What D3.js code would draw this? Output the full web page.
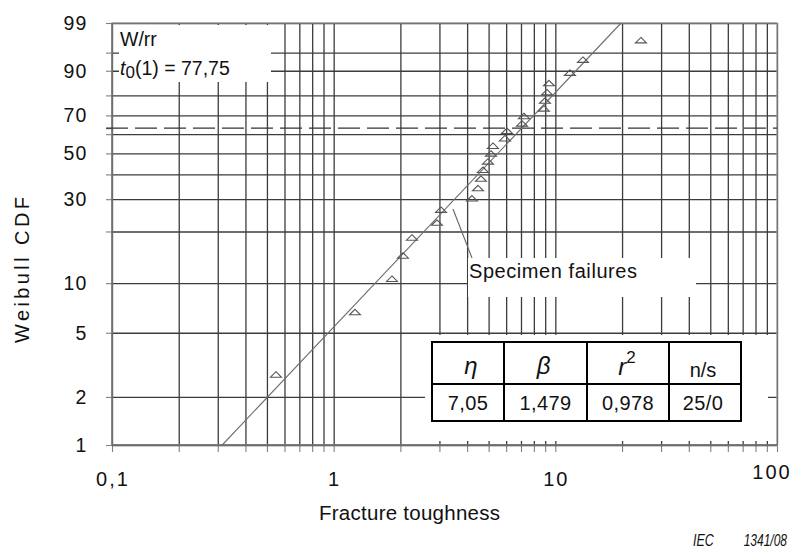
<!DOCTYPE html>
<html>
<head>
<meta charset="utf-8">
<script src="https://cdn.jsdelivr.net/npm/d3@7"></script>
<style>
  body { margin: 0; background: #fff; }
  svg { display: block; }
  text { font-family: Arial, "Liberation Sans", sans-serif; fill: #111; }
</style>
</head>
<body>
<svg id="chart" width="794" height="549"></svg>
<script>
// Specimen fracture toughness, ranked, and the plotted CDF position of each (%)
const toughness = [0.549, 1.248, 1.832, 2.054, 2.255, 2.924, 3.048, 4.205, 4.477, 4.618,
                   4.715, 4.966, 5.123, 5.230, 5.925, 6.049, 7.07, 7.22, 8.88, 8.98,
                   9.17, 9.36, 11.64, 13.32, 24.33];
const cdfPercent = [2.76, 6.69, 10.63, 14.57, 18.50, 22.44, 26.38, 30.31, 34.25, 38.19,
                    42.13, 46.06, 50.00, 53.94, 57.87, 61.81, 65.75, 69.69, 73.62, 77.56,
                    81.50, 85.43, 89.37, 93.31, 97.24];

// Two-parameter Weibull fit
const eta = 7.05;
const beta = 1.479;
const rSquared = 0.978;
const nFailed = 25;
const nSuspended = 0;
const fitPercent = [1, 99];
const characteristicPercent = 63.2;

// Grid and tick values
const xGrid = [0.1, 0.2, 0.3, 0.4, 0.5, 0.6, 0.7, 0.8, 0.9,
               1, 2, 3, 4, 5, 6, 7, 8, 9,
               10, 20, 30, 40, 50, 60, 70, 80, 90, 100];
const xTickLabels = [0.1, 1, 10, 100];
const yGridPercent = [1, 2, 5, 10, 20, 30, 40, 50, 60, 70, 80, 90, 95, 99];
const yTickLabels = [1, 2, 5, 10, 30, 50, 70, 90, 99];

const fmtComma = (v, d) => v.toFixed(d).replace(".", ",");
const fmtTick = v => String(v).replace(".", ",");

// Weibull probability transform
const weib = p => Math.log(-Math.log(1 - p / 100));

const svg = d3.select("#chart");
const L = 112, R = 777, T = 23, B = 445;

const x = d3.scaleLog().domain([0.1, 100]).range([L, R]);
const y = d3.scaleLinear().domain([weib(1), weib(99)]).range([B, T]);

// outer tick marks (left and bottom)
svg.append("g")
  .attr("transform", `translate(0,${B})`)
  .attr("color", "#808080")
  .call(d3.axisBottom(x).tickValues(xGrid).tickSize(7).tickFormat(""))
  .call(g => g.select(".domain").remove())
  .call(g => g.selectAll("line").attr("stroke-width", 1.1));

svg.append("g")
  .attr("transform", `translate(${L},0)`)
  .attr("color", "#808080")
  .call(d3.axisLeft(y).tickValues(yGridPercent.map(weib).concat([weib(characteristicPercent)])).tickSize(6).tickFormat(""))
  .call(g => g.select(".domain").remove())
  .call(g => g.selectAll("line").attr("stroke-width", 1.1));

// grid
svg.append("g")
  .attr("transform", `translate(0,${B})`)
  .attr("color", "#3c3c3c")
  .call(d3.axisBottom(x).tickValues(xGrid).tickSize(-(B - T)).tickFormat(""))
  .call(g => g.select(".domain").remove())
  .call(g => g.selectAll("line").attr("stroke-width", 1.3));

svg.append("g")
  .attr("transform", `translate(${L},0)`)
  .attr("color", "#3c3c3c")
  .call(d3.axisLeft(y).tickValues(yGridPercent.map(weib)).tickSize(-(R - L)).tickFormat(""))
  .call(g => g.select(".domain").remove())
  .call(g => g.selectAll("line").attr("stroke-width", 1.3));

// frame
svg.append("rect")
  .attr("x", L).attr("y", T).attr("width", R - L).attr("height", B - T)
  .attr("fill", "none").attr("stroke", "#9a9a9a").attr("stroke-width", 1.2);
svg.append("line")
  .attr("x1", L).attr("x2", L).attr("y1", T).attr("y2", B)
  .attr("stroke", "#6a6a6a").attr("stroke-width", 1.3);
svg.append("line")
  .attr("x1", L).attr("x2", R).attr("y1", B).attr("y2", B)
  .attr("stroke", "#6a6a6a").attr("stroke-width", 1.3);

// characteristic-life level
svg.append("line")
  .attr("x1", L - 6).attr("x2", R)
  .attr("y1", y(weib(characteristicPercent))).attr("y2", y(weib(characteristicPercent)))
  .attr("stroke", "#333").attr("stroke-width", 1.3)
  .attr("stroke-dasharray", "22 7");

// white label panels
const panel = (x0, y0, w, h) => svg.append("rect")
  .attr("x", x0).attr("y", y0).attr("width", w).attr("height", h).attr("fill", "#fff");
panel(119, 25, 152, 57);
panel(468, 258, 228, 39);
panel(425, 335, 343, 106);

// fitted Weibull line
const fitLine = fitPercent.map(p => ({
  t: eta * Math.pow(-Math.log(1 - p / 100), 1 / beta),
  p
}));
svg.append("path")
  .datum(fitLine)
  .attr("d", d3.line().x(d => x(d.t)).y(d => y(weib(d.p))))
  .attr("fill", "none").attr("stroke", "#6e6e6e").attr("stroke-width", 1.1);

// specimen markers: flat open triangles
const flatTriangle = {
  draw(ctx, size) {
    const h = Math.sqrt(size) / 2;
    ctx.moveTo(0, -h);
    ctx.lineTo(2 * h, h);
    ctx.lineTo(-2 * h, h);
    ctx.closePath();
  }
};
svg.append("g")
  .selectAll("path")
  .data(toughness.map((t, i) => ({ t, p: cdfPercent[i] })))
  .join("path")
  .attr("transform", d => `translate(${x(d.t)},${y(weib(d.p))})`)
  .attr("d", d3.symbol().type(flatTriangle).size(30))
  .attr("fill", "none").attr("stroke", "#555").attr("stroke-width", 1.1);

// leader for the specimen label
svg.append("line")
  .attr("x1", 453).attr("y1", 209).attr("x2", 472).attr("y2", 258)
  .attr("stroke", "#666").attr("stroke-width", 1.1);
svg.append("text")
  .attr("x", 469).attr("y", 278)
  .attr("font-size", 20)
  .attr("textLength", 168).attr("lengthAdjust", "spacing")
  .text("Specimen failures");

// y tick labels
svg.append("g")
  .selectAll("text")
  .data(yTickLabels)
  .join("text")
  .attr("x", 87.5)
  .attr("y", d => y(weib(d)) + 7)
  .attr("text-anchor", "end")
  .attr("font-size", 19.5)
  .attr("letter-spacing", 1.2)
  .text(d => d);

// x tick labels
svg.append("g")
  .selectAll("text")
  .data(xTickLabels)
  .join("text")
  .attr("x", d => Math.min(x(d), 771) + 1)
  .attr("y", (d, i) => i === xTickLabels.length - 1 ? 478.5 : 485.5)
  .attr("text-anchor", "middle")
  .attr("font-size", 20)
  .attr("letter-spacing", 2)
  .text(fmtTick);

// axis titles
svg.append("text")
  .attr("transform", "translate(28.5,270) rotate(-90)")
  .attr("text-anchor", "middle")
  .attr("font-size", 20)
  .attr("textLength", 146).attr("lengthAdjust", "spacing")
  .text("Weibull CDF");
svg.append("text")
  .attr("x", 409.5).attr("y", 520)
  .attr("text-anchor", "middle")
  .attr("font-size", 20.5)
  .attr("textLength", 181).attr("lengthAdjust", "spacing")
  .text("Fracture toughness");

// method and threshold labels
svg.append("text")
  .attr("x", 120).attr("y", 45.5)
  .attr("font-size", 19.5)
  .text("W/rr");
const t0 = svg.append("text")
  .attr("x", 120).attr("y", 75)
  .attr("font-size", 19.5);
t0.append("tspan").attr("font-style", "italic").text("t");
t0.append("tspan").attr("dy", 3).attr("font-size", 17).text("0");
t0.append("tspan").attr("dy", -3).text("(1) = " + fmtComma(77.75, 2));

// parameter table
const colX = [432, 504, 587, 669, 741];
const rowY = [342, 384, 421];
const table = svg.append("g");
table.selectAll("line.v")
  .data(colX)
  .join("line")
  .attr("x1", d => d).attr("x2", d => d)
  .attr("y1", rowY[0]).attr("y2", rowY[2])
  .attr("stroke", "#000").attr("stroke-width", 2);
table.selectAll("line.h")
  .data(rowY)
  .join("line")
  .attr("x1", colX[0] - 1).attr("x2", colX[colX.length - 1] + 1)
  .attr("y1", d => d).attr("y2", d => d)
  .attr("stroke", "#000").attr("stroke-width", 2);

const cellCx = i => (colX[i] + colX[i + 1]) / 2;
const serif = '"Liberation Serif", "Times New Roman", serif';
table.append("text")
  .attr("x", cellCx(0) + 3).attr("y", 374)
  .attr("text-anchor", "middle")
  .attr("font-family", serif).attr("font-style", "italic").attr("font-size", 24)
  .text("η");
table.append("text")
  .attr("x", cellCx(1) - 2).attr("y", 374)
  .attr("text-anchor", "middle")
  .attr("font-family", serif).attr("font-style", "italic").attr("font-size", 24)
  .text("β");
const r2 = table.append("text")
  .attr("x", cellCx(2) - 1).attr("y", 375)
  .attr("text-anchor", "middle")
  .attr("font-family", serif).attr("font-size", 24);
r2.append("tspan").attr("font-style", "italic").text("r");
r2.append("tspan").attr("dy", -12).attr("font-size", 17)
  .attr("font-family", 'Arial, "Liberation Sans", sans-serif').text("2");
table.append("text")
  .attr("x", cellCx(3) - 2).attr("y", 377)
  .attr("text-anchor", "middle")
  .attr("font-size", 20)
  .text("n/s");

const tableValues = [fmtComma(eta, 2), fmtComma(beta, 3), fmtComma(rSquared, 3), `${nFailed}/${nSuspended}`];
table.selectAll("text.val")
  .data(tableValues)
  .join("text")
  .attr("x", (d, i) => cellCx(i) + (i === 3 ? -2 : 0))
  .attr("y", 410)
  .attr("text-anchor", "middle")
  .attr("font-size", 20)
  .attr("letter-spacing", 0.4)
  .text(d => d);

// figure reference
svg.append("text")
  .attr("transform", "translate(693,545.5) scale(0.78,1)")
  .attr("font-size", 16).attr("font-style", "italic")
  .text("IEC");
svg.append("text")
  .attr("transform", "translate(787,545.5) scale(0.75,1)")
  .attr("text-anchor", "end")
  .attr("font-size", 16).attr("font-style", "italic")
  .text("1341/08");
</script>
</body>
</html>
